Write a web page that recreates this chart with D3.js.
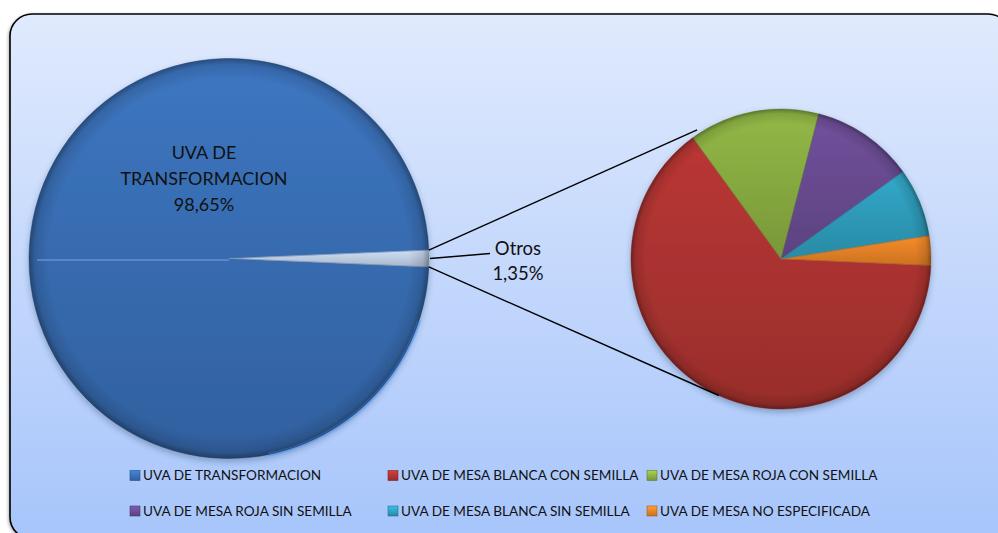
<!DOCTYPE html>
<html><head><meta charset="utf-8">
<script src="https://cdn.jsdelivr.net/npm/d3@7"></script>
<style>
body{margin:0;background:#fff;}
svg{display:block;}
text{font-family:Lato,"Noto Sans",sans-serif;fill:#111;}
</style></head>
<body>
<svg id="chart" width="998" height="533"></svg>
<script>
// ---- data ----
const mainCategories = ["UVA DE TRANSFORMACION", "Otros"];
const mainValues = [98.65, 1.35];
const subCategories = [
  "UVA DE MESA BLANCA CON SEMILLA",
  "UVA DE MESA ROJA CON SEMILLA",
  "UVA DE MESA ROJA SIN SEMILLA",
  "UVA DE MESA BLANCA SIN SEMILLA",
  "UVA DE MESA NO ESPECIFICADA"
];
const subValues = [0.868, 0.190, 0.149, 0.100, 0.043];
const legendLabels = ["UVA DE TRANSFORMACION"].concat(subCategories);
const seriesColors = ["#3a71b9", "#b23532", "#8db143", "#6c4e95", "#30a2c2", "#ee8628"];
const otrosColor = "#c5d6ec";

// ---- layout ----
const W = 998, H = 533;
const svg = d3.select("#chart");
const defs = svg.append("defs");
const pctFmt = v => d3.format(".2f")(v).replace(".", ",") + "%";

// background gradient
const bg = defs.append("linearGradient").attr("id", "bg").attr("x1", 0).attr("y1", 0).attr("x2", 0).attr("y2", 1);
bg.append("stop").attr("offset", 0).attr("stop-color", "#e0eafd");
bg.append("stop").attr("offset", 1).attr("stop-color", "#a7c5fb");

const sh = defs.append("filter").attr("id", "frameShadow").attr("x", -0.05).attr("y", -0.05).attr("width", 1.1).attr("height", 1.1);
sh.append("feDropShadow").attr("dx", -1).attr("dy", 1).attr("stdDeviation", 1.5).attr("flood-color", "#000").attr("flood-opacity", 0.3);

svg.append("rect").attr("x", 10).attr("y", 14).attr("width", 1000).attr("height", 525)
  .attr("rx", 22).attr("fill", "url(#bg)").attr("stroke", "#000").attr("stroke-width", 1.6)
  .attr("filter", "url(#frameShadow)");

const pieShadow = defs.append("filter").attr("id", "pieShadow").attr("x", -0.1).attr("y", -0.1).attr("width", 1.2).attr("height", 1.25);
pieShadow.append("feDropShadow").attr("dx", 0).attr("dy", 3).attr("stdDeviation", 3).attr("flood-color", "#203050").attr("flood-opacity", 0.35);

// per-colour vertical gradients
function mkGrad(id, c) {
  const g = defs.append("linearGradient").attr("id", id).attr("x1", 0).attr("y1", 0).attr("x2", 0).attr("y2", 1);
  g.append("stop").attr("offset", 0).attr("stop-color", d3.color(c).brighter(0.12));
  g.append("stop").attr("offset", 1).attr("stop-color", d3.color(c).darker(0.45));
  return "url(#" + id + ")";
}
function mkRim(id) {
  const g = defs.append("radialGradient").attr("id", id).attr("cx", 0.5).attr("cy", 0.5).attr("r", 0.5);
  g.append("stop").attr("offset", 0.9).attr("stop-color", "#000").attr("stop-opacity", 0);
  g.append("stop").attr("offset", 0.97).attr("stop-color", "#000").attr("stop-opacity", 0.12);
  g.append("stop").attr("offset", 1).attr("stop-color", "#000").attr("stop-opacity", 0.35);
  return "url(#" + id + ")";
}

function drawPie(cx, cy, r, values, colors, fills, startDeg, prefix) {
  const start = startDeg * Math.PI / 180;
  const pie = d3.pie().sort(null).startAngle(start).endAngle(start + 2 * Math.PI);
  const arcs = pie(values);
  const arc = d3.arc().innerRadius(0).outerRadius(r);
  const g = svg.append("g").attr("transform", `translate(${cx},${cy})`);
  const body = g.append("g").attr("filter", "url(#pieShadow)");
  body.selectAll("path.slice").data(arcs).join("path")
    .attr("class", "slice").attr("d", arc).attr("fill", (d, i) => fills[i]);
  // inner bevel highlight per slice
  arcs.forEach((d, i) => {
    const cid = prefix + "clip" + i;
    defs.append("clipPath").attr("id", cid).append("path").attr("d", arc(d)).attr("transform", `translate(${cx},${cy})`);
    svg.append("path").attr("d", arc(d)).attr("transform", `translate(${cx},${cy})`)
      .attr("clip-path", `url(#${cid})`).attr("fill", "none")
      .attr("stroke", d3.color(colors[i]).brighter(0.9)).attr("stroke-opacity", 0.55).attr("stroke-width", 4)
      .attr("stroke-linejoin", "round");
    svg.append("path").attr("d", arc(d)).attr("transform", `translate(${cx},${cy})`)
      .attr("fill", "none").attr("stroke", d3.color(colors[i]).darker(0.6)).attr("stroke-opacity", 0.6).attr("stroke-width", 0.8);
  });
  svg.append("circle").attr("cx", cx).attr("cy", cy).attr("r", r).attr("fill", mkRim(prefix + "rim")).attr("pointer-events", "none");
  return arcs;
}

// main pie
const mC = { x: 229, y: 258.5, r: 200 };
const mainFills = [mkGrad("gMain", seriesColors[0]), mkGrad("gOtros", otrosColor)];
const mainShare = mainValues[1] / d3.sum(mainValues) * 360;
const mainArcs = drawPie(mC.x, mC.y, mC.r, mainValues, [seriesColors[0], otrosColor], mainFills, 90 + mainShare / 2, "m");

// bevel seam inside main pie (left radius)
svg.append("line").attr("x1", mC.x - mC.r + 8).attr("y1", mC.y + 1.5).attr("x2", mC.x).attr("y2", mC.y + 1.5)
  .attr("stroke", "#6d9bd6").attr("stroke-width", 1.6).attr("stroke-opacity", 0.8);

// second pie
const sC = { x: 781, y: 259, r: 150 };
const subFills = subValues.map((v, i) => mkGrad("gSub" + i, seriesColors[i + 1]));
drawPie(sC.x, sC.y, sC.r, subValues, seriesColors.slice(1), subFills, 92.5, "s");

// connector lines
const oA = mainArcs[1];
function polar(c, r, a) { return [c.x + r * Math.sin(a), c.y - r * Math.cos(a)]; }
const topStart = polar(mC, mC.r, oA.startAngle);
const botStart = polar(mC, mC.r, oA.endAngle);
const topEnd = polar(sC, sC.r + 4, -33 * Math.PI / 180);
const botEnd = polar(sC, sC.r, 204.5 * Math.PI / 180);
[[topStart, topEnd], [botStart, botEnd]].forEach(([a, b]) => {
  svg.append("line").attr("x1", a[0]).attr("y1", a[1]).attr("x2", b[0]).attr("y2", b[1])
    .attr("stroke", "#000").attr("stroke-width", 1.4);
});

// leader line for "Otros"
const midA = (oA.startAngle + oA.endAngle) / 2;
const lStart = polar(mC, mC.r + 1, midA);
svg.append("line").attr("x1", lStart[0]).attr("y1", lStart[1]).attr("x2", lStart[0] + 60).attr("y2", lStart[1] - 5)
  .attr("stroke", "#000").attr("stroke-width", 1.4);

// labels
const otrosLbl = svg.append("text").attr("text-anchor", "middle").attr("font-size", 18.5);
otrosLbl.append("tspan").attr("x", 518).attr("y", 254.5).text(mainCategories[1]);
otrosLbl.append("tspan").attr("x", 518).attr("y", 280).text(pctFmt(mainValues[1]));

const mainLbl = svg.append("text").attr("text-anchor", "middle").attr("font-size", 18);
const words = mainCategories[0].split(" ");
[words.slice(0, -1).join(" "), words[words.length - 1], pctFmt(mainValues[0])].forEach((t, i) => {
  mainLbl.append("tspan").attr("x", mC.x - 25).attr("y", 158.5 + i * 26).text(t);
});

// legend
const legCols = [130, 388, 647];
const legRows = [475.5, 511];
legendLabels.forEach((lab, i) => {
  const x = legCols[i % 3], y = legRows[Math.floor(i / 3)];
  const gid = "lg" + i;
  const c = seriesColors[i];
  const lg = defs.append("linearGradient").attr("id", gid).attr("x1", 0).attr("y1", 0).attr("x2", 0).attr("y2", 1);
  lg.append("stop").attr("offset", 0).attr("stop-color", d3.color(c).brighter(0.5));
  lg.append("stop").attr("offset", 1).attr("stop-color", d3.color(c).darker(0.5));
  svg.append("rect").attr("x", x).attr("y", y - 5).attr("width", 10).attr("height", 10)
    .attr("fill", `url(#${gid})`).attr("stroke", d3.color(c).darker(1)).attr("stroke-width", 0.6);
  svg.append("text").attr("x", x + 13).attr("y", y).attr("dy", "0.36em").attr("font-size", 13.6).text(lab);
});
</script>
</body></html>
